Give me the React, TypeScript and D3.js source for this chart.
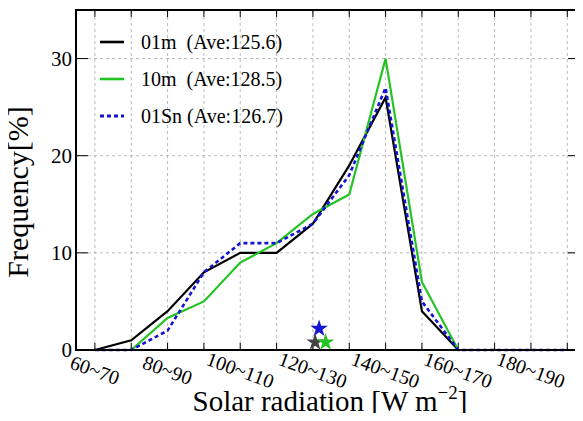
import React from "react";
import * as d3 from "d3";

// radiation bins (W m-2)
const bins = ["60-70", "70-80", "80-90", "90-100", "100-110", "110-120", "120-130",
  "130-140", "140-150", "150-160", "160-170", "170-180", "180-190", "190-200"];
const xLabels = ["60~70", "80~90", "100~110", "120~130", "140~150", "160~170", "180~190"];

const freq01m = [0, 1, 4, 8, 10, 10, 13, 19, 26, 4, 0, 0, 0, 0];
const freq10m = [0, 0, 3.3, 5, 9, 11, 14, 16, 30, 7, 0, 0, 0, 0];
const freq01Sn = [0, 0, 2, 8, 11, 11, 13, 18, 27, 5, 0, 0, 0, 0];

const seriesNames = ["01m", "10m", "01Sn"];
const averages = [125.6, 128.5, 126.7];
const starHeights = [0.8, 0.8, 2.2];
const yTicks = [0, 10, 20, 30];

const W = 583, H = 421;
const m = { left: 76, right: 3, top: 10, bottom: 71 };
const F = "Liberation Serif";

function App() {
  const x = d3.scaleLinear().domain([-0.52, 13.35]).range([m.left, W - m.right]);
  const y = d3.scaleLinear().domain([0, 35]).range([H - m.bottom, m.top]);
  // radiation value -> x (bin i centred at 65 + 10*i)
  const xr = d3.scaleLinear().domain([65, 75]).range([x(0), x(1)]);
  const x0 = m.left, x1 = W - m.right, y0 = H - m.bottom, y1 = m.top;

  const line = d3.line<number>().x((d, i) => x(i)).y(d => y(d));
  const styles = [
    { data: freq01m, color: "#000000", width: 2.2, dash: undefined },
    { data: freq10m, color: "#22c322", width: 2.2, dash: undefined },
    { data: freq01Sn, color: "#1414d2", width: 2.6, dash: "4,3" },
  ];
  const starColors = ["#444444", "#22c322", "#1414d2"];
  const star = d3.symbol().type(d3.symbolStar).size(95)();

  return (
    <div style={{ margin: -8 }}>
      <svg width={W} height={H} style={{ display: "block", background: "#fff" }}>
        {bins.map((b, i) => (
          <g key={b}>
            <line x1={x(i)} x2={x(i)} y1={y0} y2={y1} stroke="#aaa" strokeWidth={0.8} strokeDasharray="3,3" />
            <line x1={x(i)} x2={x(i)} y1={y0} y2={y0 - 7} stroke="#000" />
            <line x1={x(i)} x2={x(i)} y1={y1} y2={y1 + 7} stroke="#000" />
          </g>
        ))}
        {yTicks.map(t => (
          <g key={t}>
            {t > 0 && <line x1={x0} x2={x1} y1={y(t)} y2={y(t)} stroke="#aaa" strokeWidth={0.8} strokeDasharray="3,3" />}
            <line x1={x0} x2={x0 + 12} y1={y(t)} y2={y(t)} stroke="#000" />
            <line x1={x1} x2={x1 - 12} y1={y(t)} y2={y(t)} stroke="#000" />
            <text x={x0 - 4} y={y(t)} dy="0.33em" textAnchor="end" fontFamily={F} fontSize={21}>{t}</text>
          </g>
        ))}
        {styles.map((s, i) => (
          <path key={i} d={line(s.data) || ""} fill="none" stroke={s.color}
            strokeWidth={s.width} strokeDasharray={s.dash} />
        ))}
        {[0, 2, 1].map(k => (
          <path key={k} d={star || ""} fill={starColors[k]}
            transform={`translate(${xr(averages[k])},${y(starHeights[k])})`} />
        ))}
        <rect x={x0} y={y1} width={x1 - x0} height={y0 - y1} fill="none" stroke="#000" strokeWidth={2} />

        {xLabels.map((l, i) => (
          <text key={l} transform={`translate(${x(i * 2)},${y0 + 20}) rotate(20)`}
            textAnchor="middle" dy="0.35em" fontFamily={F} fontSize={20}>{l}</text>
        ))}

        <text x={330} y={411} textAnchor="middle" fontFamily={F} fontSize={29}>
          Solar radiation [W m<tspan fontSize={19} dy={-12}>{"\u22122"}</tspan><tspan dy={12}>]</tspan>
        </text>
        <text transform={`translate(28,${(y0 + y1) / 2 + 12}) rotate(-90)`} textAnchor="middle"
          fontFamily={F} fontSize={30}>Frequency[%]</text>

        {styles.map((s, i) => {
          const ly = 42 + i * 37;
          return (
            <g key={"l" + i}>
              <line x1={100} x2={124} y1={ly} y2={ly} stroke={s.color} strokeWidth={s.width + 0.4} strokeDasharray={s.dash} />
              <text x={141} y={ly} dy="0.35em" fontFamily={F} fontSize={20} style={{ whiteSpace: "pre" }}>
                {`${seriesNames[i].padEnd(4, " ")} (Ave:${averages[i].toFixed(1)})`}
              </text>
            </g>
          );
        })}
      </svg>
    </div>
  );
}

export default App;
